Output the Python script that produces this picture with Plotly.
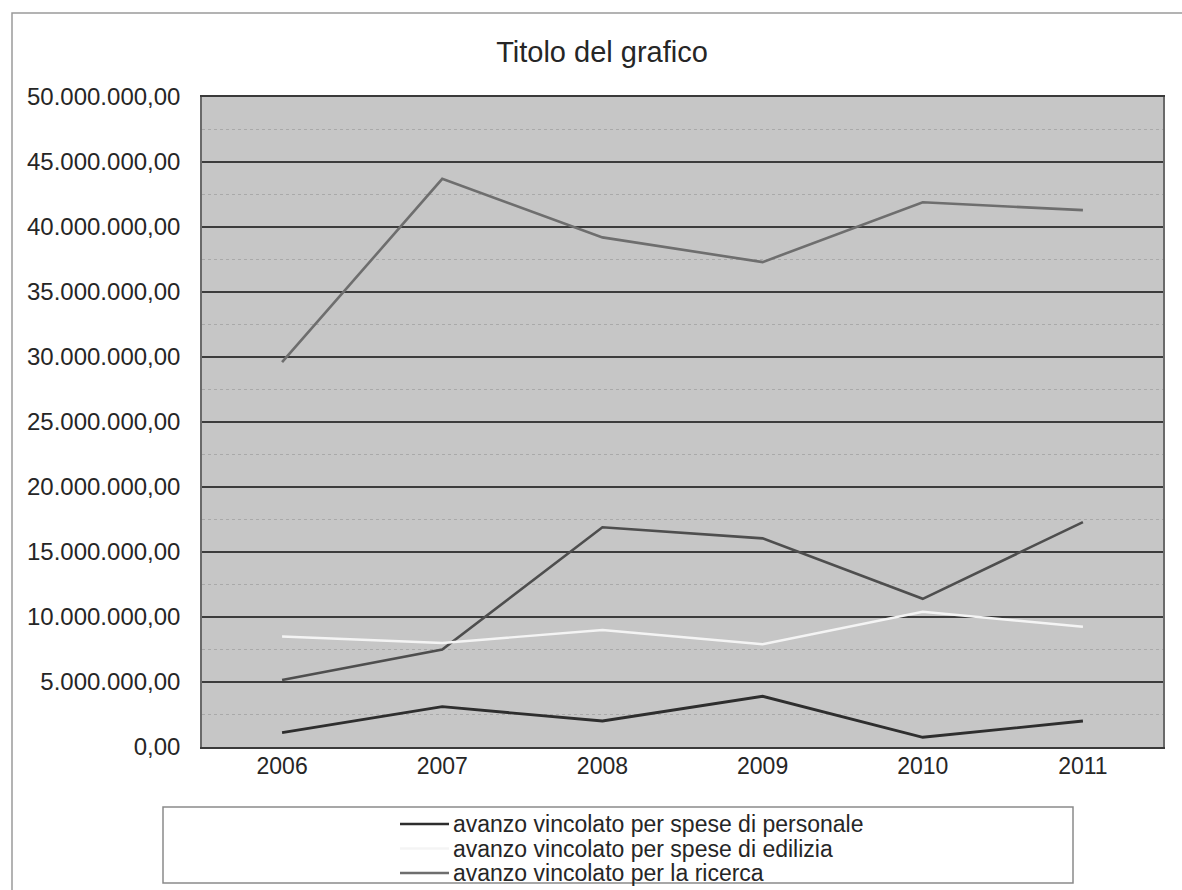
import plotly.graph_objects as go

# Anni di riferimento
anni = ["2006", "2007", "2008", "2009", "2010", "2011"]

# Serie (valori in euro)
spese_personale = [1100000, 3100000, 2000000, 3900000, 750000, 2000000]
spese_edilizia = [8500000, 8000000, 9000000, 7900000, 10400000, 9250000]
ricerca = [29600000, 43700000, 39200000, 37300000, 41900000, 41300000]
altro_vincolato = [5150000, 7500000, 16900000, 16050000, 11400000, 17300000]

nomi = [
    "avanzo vincolato per spese di personale",
    "avanzo vincolato per spese di edilizia",
    "avanzo vincolato per la ricerca",
]
colori = ["#2e2e2e", "#f4f4f4", "#6e6e6e"]

y_tick_valori = [0, 5000000, 10000000, 15000000, 20000000, 25000000,
                 30000000, 35000000, 40000000, 45000000, 50000000]

FONT = "Liberation Sans, Arial, sans-serif"
TESTO = "#262626"

fig = go.Figure()

fig.add_trace(go.Scatter(
    x=anni, y=altro_vincolato, mode="lines", name="avanzo vincolato (altro)",
    line=dict(color="#4e4e4e", width=2.6),
))
for nome, serie, col, w in zip(nomi, [spese_personale, spese_edilizia, ricerca],
                               colori, [2.8, 2.4, 2.6]):
    fig.add_trace(go.Scatter(x=anni, y=serie, mode="lines", name=nome,
                             line=dict(color=col, width=w)))

L, R, T, B = 202, 1163, 97, 747
W, H = 1182, 890
pw, ph = R - L, B - T


def px_x(v):
    return (v - L) / pw


def px_y(v):
    return (B - v) / ph


shapes = [
    # cornice esterna del grafico
    dict(type="rect", xref="paper", yref="paper",
         x0=px_x(12), x1=px_x(1200), y0=px_y(910), y1=px_y(13),
         line=dict(color="#9a9a9a", width=1.5), layer="below"),
    # riquadro della legenda
    dict(type="rect", xref="paper", yref="paper",
         x0=px_x(163), x1=px_x(1073), y0=px_y(883), y1=px_y(807),
         line=dict(color="#8a8a8a", width=1.5), layer="below"),
]
annotations = []

# legenda disegnata a mano dentro il riquadro
for i, (nome, col) in enumerate(zip(nomi, colori)):
    yc = 824 + i * 24.5
    shapes.append(dict(type="line", xref="paper", yref="paper",
                       x0=px_x(400), x1=px_x(449), y0=px_y(yc), y1=px_y(yc),
                       line=dict(color=col, width=2.6)))
    annotations.append(dict(text=nome, xref="paper", yref="paper",
                            x=px_x(451), y=px_y(yc), xanchor="left",
                            yanchor="middle", showarrow=False,
                            font=dict(size=23, color=TESTO)))

fig.update_layout(
    width=W, height=H,
    margin=dict(l=L, r=W - R, t=T, b=H - B, pad=0),
    paper_bgcolor="white",
    plot_bgcolor="#c6c6c6",
    separators=",.",
    showlegend=False,
    font=dict(family=FONT, size=23, color=TESTO),
    title=dict(text="Titolo del grafico", x=602 / W, xref="container",
               xanchor="center", y=1 - 52 / H, yref="container",
               yanchor="middle", font=dict(size=29, color=TESTO)),
    xaxis=dict(
        type="category", showgrid=False, ticks="",
        tickfont=dict(size=23), ticklabelstandoff=-3,
        showline=True, linecolor="#3a3a3a", linewidth=2, mirror=True,
        range=[-0.5, 5.5],
    ),
    yaxis=dict(
        range=[0, 50000000], tickvals=y_tick_valori, tickformat=",.2f",
        showgrid=True, gridcolor="#3c3c3c", gridwidth=1.6,
        minor=dict(dtick=2500000, showgrid=True, gridcolor="#a9a9a9",
                   gridwidth=1, griddash="dot"),
        zeroline=False, ticks="", tickfont=dict(size=24),
        ticklabelstandoff=15,
        showline=True, linecolor="#6a6a6a", linewidth=1.5, mirror=True,
    ),
    shapes=shapes,
    annotations=annotations,
)

fig.write_html("out.html")
